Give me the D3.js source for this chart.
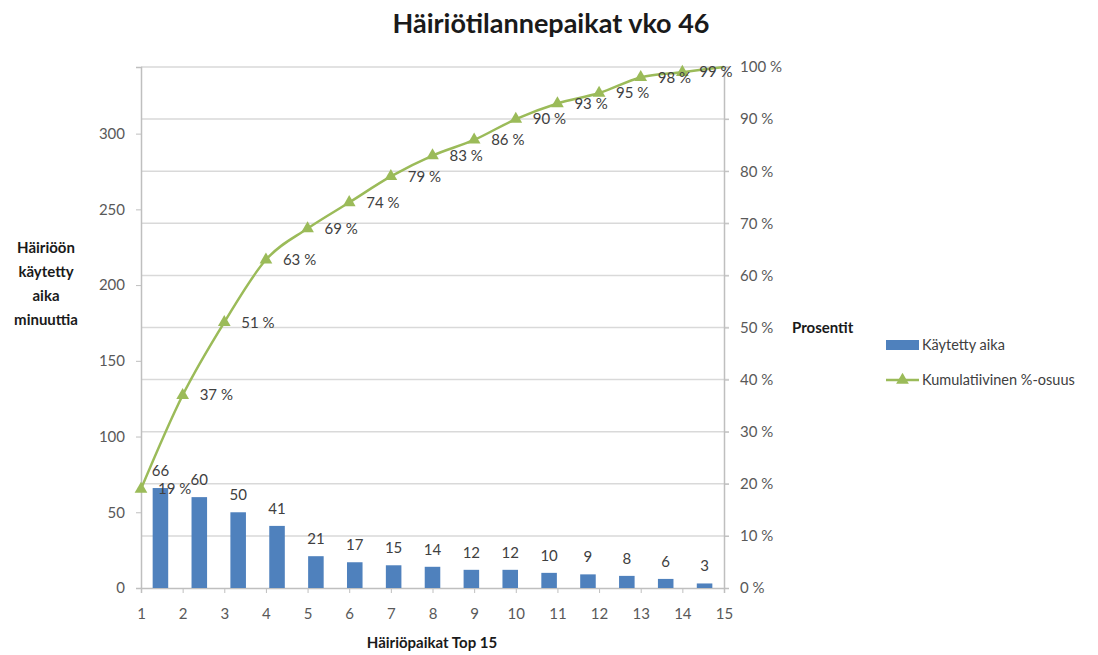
<!DOCTYPE html>
<html>
<head>
<meta charset="utf-8">
<script src="https://cdn.jsdelivr.net/npm/d3@7"></script>
<style>
  body { margin: 0; background: #fff; }
  svg text { font-family: Lato, "Open Sans", sans-serif; }
  .tick-label { fill: #595959; font-size: 15px; }
  .data-label { fill: #404040; font-size: 15px; }
  .axis-title { fill: #1a1a1a; font-size: 15px; font-weight: bold; }
</style>
</head>
<body>
<div id="chart"></div>
<script>
// data
const places = [1, 2, 3, 4, 5, 6, 7, 8, 9, 10, 11, 12, 13, 14, 15]
const minutes = [66, 60, 50, 41, 21, 17, 15, 14, 12, 12, 10, 9, 8, 6, 3]
const cumulative = [19, 37, 51, 63, 69, 74, 79, 83, 86, 90, 93, 95, 98, 99, 100]
const leftTicks = [0, 50, 100, 150, 200, 250, 300]
const rightTicks = [0, 10, 20, 30, 40, 50, 60, 70, 80, 90, 100]
const totalMinutes = 344

const width = 1098, height = 655
const plot = { left: 141, right: 724, top: 67, bottom: 588 }

const svg = d3.select('#chart').append('svg')
    .attr('width', width)
    .attr('height', height)

const yLeft = d3.scaleLinear().domain([0, totalMinutes]).range([plot.bottom, plot.top])
const yRight = d3.scaleLinear().domain([0, 100]).range([plot.bottom, plot.top])
const xBand = d3.scaleBand().domain(places).range([plot.left, plot.right])
    .paddingInner(0.6).paddingOuter(0.3)
const xPoint = d3.scalePoint().domain(places).range([plot.left, plot.right])

// gridlines follow the percent axis
svg.append('g').selectAll('line')
    .data(rightTicks.filter(d => d > 0))
    .join('line')
    .attr('x1', plot.left).attr('x2', plot.right + 5)
    .attr('y1', d => yRight(d)).attr('y2', d => yRight(d))
    .attr('stroke', '#d9d9d9')
    .attr('stroke-width', 1.5)

// left axis
const leftAxis = svg.append('g')
    .attr('transform', `translate(${plot.left},0)`)
    .call(d3.axisLeft(yLeft).tickValues(leftTicks).tickSize(5).tickPadding(11))
leftAxis.attr('font-family', null).attr('font-size', null)
leftAxis.select('.domain').attr('stroke', '#bfbfbf').attr('stroke-width', 1.5)
leftAxis.selectAll('.tick line').attr('stroke', '#bfbfbf')
leftAxis.selectAll('.tick text').attr('class', 'tick-label').attr('fill', null)

// right axis
const rightAxis = svg.append('g')
    .attr('transform', `translate(${plot.right},0)`)
    .call(d3.axisRight(yRight).tickValues(rightTicks).tickSize(5).tickPadding(11)
        .tickFormat(d => d + ' %'))
rightAxis.attr('font-family', null).attr('font-size', null)
rightAxis.select('.domain').attr('stroke', '#bfbfbf').attr('stroke-width', 1.5)
rightAxis.selectAll('.tick line').attr('stroke', '#bfbfbf')
rightAxis.selectAll('.tick text').attr('class', 'tick-label').attr('fill', null)

// bottom axis
const bottomAxis = svg.append('g')
    .attr('transform', `translate(0,${plot.bottom})`)
    .call(d3.axisBottom(xPoint).tickSize(5).tickPadding(15))
bottomAxis.attr('font-family', null).attr('font-size', null)
bottomAxis.select('.domain').attr('stroke', '#bfbfbf').attr('stroke-width', 1.5)
bottomAxis.selectAll('.tick line').attr('stroke', '#bfbfbf')
bottomAxis.selectAll('.tick text').attr('class', 'tick-label').attr('fill', null)

// bars
svg.append('g').selectAll('rect')
    .data(minutes)
    .join('rect')
    .attr('x', (d, i) => xBand(places[i]))
    .attr('y', d => yLeft(d))
    .attr('width', xBand.bandwidth())
    .attr('height', d => plot.bottom - yLeft(d))
    .attr('fill', '#4f81bd')

svg.append('g').selectAll('text')
    .data(minutes)
    .join('text')
    .attr('class', 'data-label')
    .attr('x', (d, i) => xBand(places[i]) + xBand.bandwidth() / 2)
    .attr('y', d => yLeft(d) - 12)
    .attr('text-anchor', 'middle')
    .text(d => d)

// cumulative line, smoothed like the original
const line = d3.line()
    .x((d, i) => xPoint(places[i]))
    .y(d => yRight(d))
    .curve(d3.curveCatmullRom.alpha(0))

svg.append('path')
    .datum(cumulative)
    .attr('d', line)
    .attr('fill', 'none')
    .attr('stroke', '#9bbb59')
    .attr('stroke-width', 2.5)

const tri = d3.symbol().type(d3.symbolTriangle).size(70)
const shown = cumulative.slice(0, 14)

svg.append('g').selectAll('path')
    .data(shown)
    .join('path')
    .attr('d', tri)
    .attr('transform', (d, i) => `translate(${xPoint(places[i])},${yRight(d)})`)
    .attr('fill', '#9bbb59')

svg.append('g').selectAll('text')
    .data(shown)
    .join('text')
    .attr('class', 'data-label')
    .attr('x', (d, i) => xPoint(places[i]) + 17)
    .attr('y', d => yRight(d))
    .attr('dy', '0.35em')
    .text(d => d + ' %')

// titles
svg.append('text')
    .attr('x', 551)
    .attr('y', 33)
    .attr('text-anchor', 'middle')
    .style('font-size', '27px')
    .style('font-weight', 'bold')
    .attr('fill', '#1a1a1a')
    .text('Häiriötilannepaikat vko 46')

svg.append('text')
    .attr('class', 'axis-title')
    .attr('x', 432)
    .attr('y', 648)
    .attr('text-anchor', 'middle')
    .text('Häiriöpaikat Top 15')

const leftTitle = ['Häiriöön', 'käytetty', 'aika', 'minuuttia']
svg.append('text')
    .attr('class', 'axis-title')
    .attr('text-anchor', 'middle')
    .selectAll('tspan')
    .data(leftTitle)
    .join('tspan')
    .attr('x', 46)
    .attr('y', (d, i) => 253 + i * 24)
    .text(d => d)

svg.append('text')
    .attr('class', 'axis-title')
    .attr('x', 792)
    .attr('y', 333)
    .text('Prosentit')

// legend
const legend = svg.append('g').attr('transform', 'translate(886,345)')
legend.append('rect')
    .attr('x', 0).attr('y', -5)
    .attr('width', 33).attr('height', 10)
    .attr('fill', '#4f81bd')
legend.append('text')
    .attr('class', 'data-label')
    .attr('x', 36).attr('dy', '0.35em')
    .style('font-size', '14.5px')
    .text('Käytetty aika')

legend.append('line')
    .attr('x1', 0).attr('x2', 33)
    .attr('y1', 35).attr('y2', 35)
    .attr('stroke', '#9bbb59').attr('stroke-width', 2.5)
legend.append('path')
    .attr('d', tri)
    .attr('transform', 'translate(16.5,35)')
    .attr('fill', '#9bbb59')
legend.append('text')
    .attr('class', 'data-label')
    .attr('x', 36).attr('y', 35).attr('dy', '0.35em')
    .style('font-size', '14.5px')
    .text('Kumulatiivinen %-osuus')
</script>
</body>
</html>
